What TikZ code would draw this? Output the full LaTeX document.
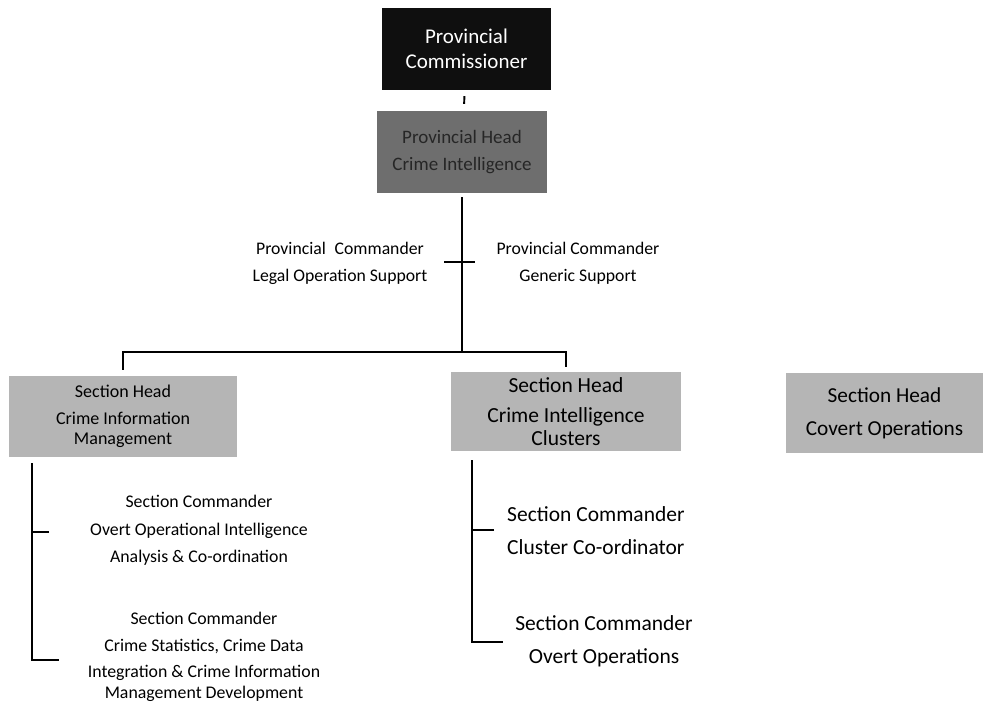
\documentclass[tikz,border=0pt]{standalone}
\usepackage{fontspec}
\setmainfont{Carlito}
\usetikzlibrary{positioning}
\definecolor{boxblack}{HTML}{0F0F0F}
\definecolor{boxdark}{HTML}{6E6E6E}
\definecolor{boxlight}{HTML}{B5B5B5}
\tikzset{
 orgbox/.style={inner sep=0pt,align=center},
 topbox/.style={orgbox,fill=boxblack,text=white,font=\fontsize{21}{25}\selectfont},
 headbox/.style={orgbox,fill=boxdark,text=black!85,font=\fontsize{19}{27}\selectfont},
 sectbox/.style={orgbox,fill=boxlight,text=black},
 rolelabel/.style={inner sep=0pt,align=center,font=\fontsize{17.7}{27}\selectfont},
 wire/.style={line width=1.9pt,black}
}
\begin{document}
\begin{tikzpicture}[x=1pt,y=-1pt]
\useasboundingbox (0,0) rectangle (985,706);
% top of the chart
\node[topbox,minimum width=169,minimum height=82] (comm) at (466.5,49) {Provincial\\Commissioner};
\node[headbox,minimum width=170,minimum height=82] (pch) at (462,152) {Provincial Head\\Crime Intelligence};
\draw[wire,shorten <=6,shorten >=7] (comm) -- (pch);
% support posts
\coordinate (hub) at (462,352);
\coordinate (tk) at (462,262);
\node[rolelabel] (legal) at (340,263.5) {Provincial\enspace Commander\\Legal Operation Support};
\node[rolelabel] (generic) at (578,263.5) {Provincial Commander\\Generic Support};
\draw[wire] ([yshift=-4]pch.south) -- (hub);
\draw[wire,line width=1.3pt] ([xshift=-18]tk) -- ([xshift=13]tk);
% sections
\node[sectbox,minimum width=228,minimum height=81,font=\fontsize{18}{20.5}\selectfont] (cim) at (123,416.5)
 {Section Head\\[6pt]Crime Information\\Management};
\node[sectbox,minimum width=230,minimum height=79,font=\fontsize{21.5}{22.5}\selectfont] (cic) at (566,411.5)
 {Section Head\\[8pt]Crime Intelligence\\Clusters};
\node[sectbox,minimum width=197,minimum height=80,font=\fontsize{21.3}{33}\selectfont] (cov) at (884.5,413)
 {Section Head\\Covert Operations};
\draw[wire] ([yshift=6]cim.north) |- (hub) -| ([yshift=5]cic.north);
% crime information management
\node[rolelabel,font=\fontsize{17.8}{27.5}\selectfont] (oia) at (199,530.5)
 {Section Commander\\Overt Operational Intelligence\\Analysis \& Co-ordination};
\node[rolelabel,font=\fontsize{17.8}{26.5}\selectfont] (csd) at (204,657)
 {Section Commander\\Crime Statistics, Crime Data\\Integration \& Crime Information\\[-6pt]Management Development};
\coordinate (cimtick) at (49,532);
\coordinate (cimend) at (59,660);
\draw[wire] ([xshift=23,yshift=-6]cim.south west) |- (cimend);
\draw[wire,line width=1.3pt] (cimtick) -| ([xshift=23,yshift=-6]cim.south west);
% crime intelligence clusters
\node[rolelabel,align=left,anchor=west,font=\fontsize{21.5}{33}\selectfont] (clc) at (507,530.5)
 {Section Commander\\Cluster Co-ordinator};
\node[rolelabel,font=\fontsize{21.5}{33}\selectfont] (ovo) at (604,641.5)
 {Section Commander\\Overt Operations};
\coordinate (cictick) at (494,530);
\coordinate (cicend) at (503,642);
\draw[wire] ([xshift=-94,yshift=-9]cic.south) |- (cicend);
\draw[wire,line width=1.3pt] (cictick) -| ([xshift=-94,yshift=-9]cic.south);
\end{tikzpicture}
\end{document}
